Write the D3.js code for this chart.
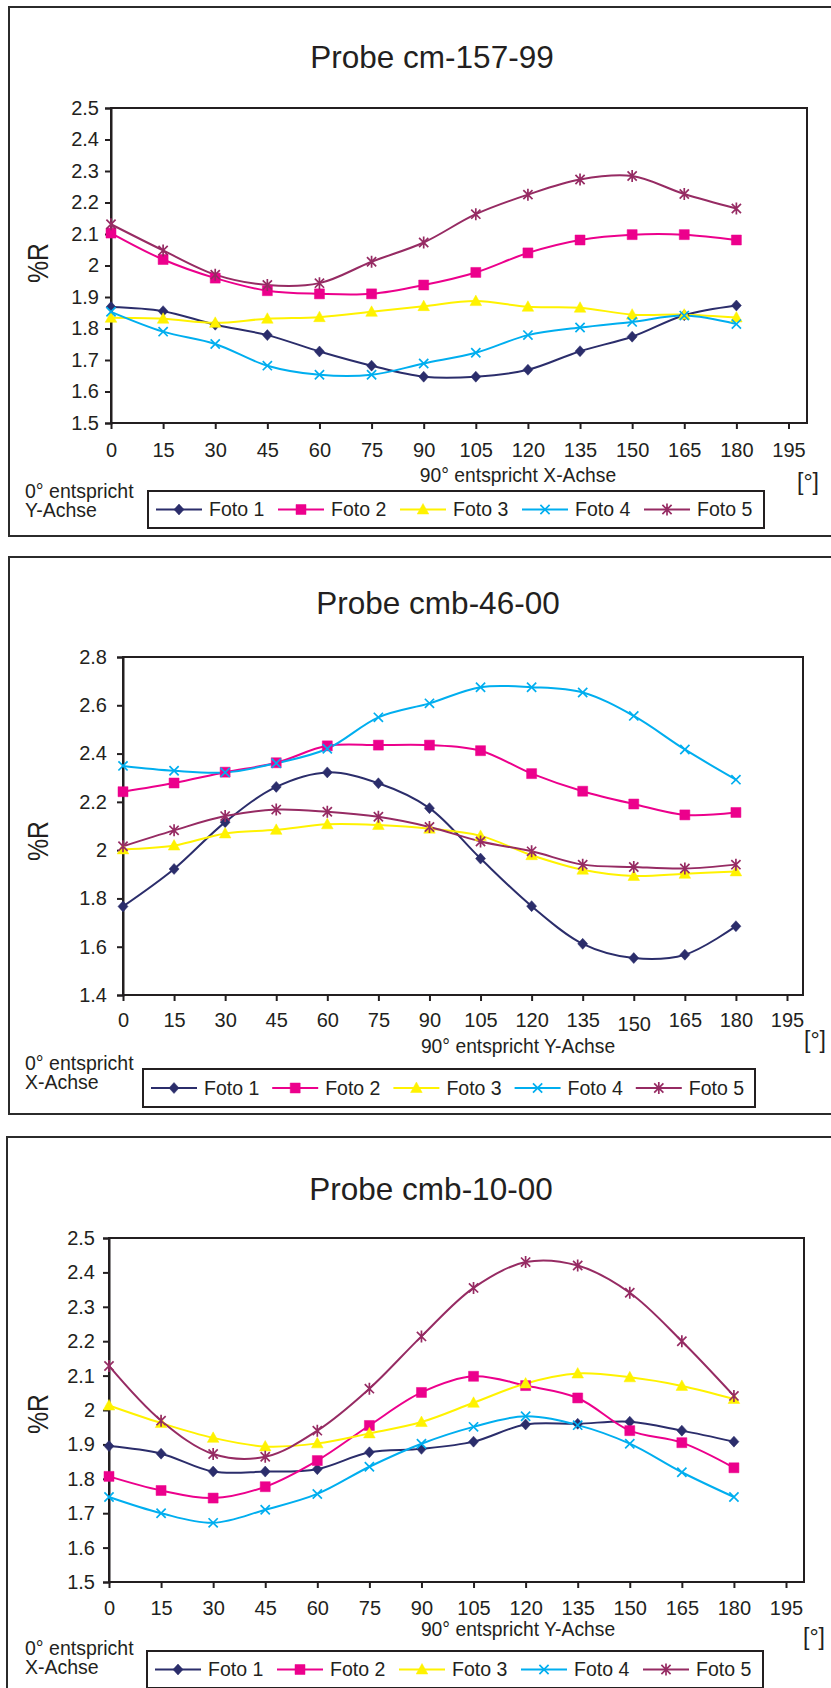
<!DOCTYPE html>
<html>
<head>
<meta charset="utf-8">
<script src="https://cdn.jsdelivr.net/npm/d3@7"></script>
<style>
  html, body { margin: 0; padding: 0; background: #ffffff; }
  svg { display: block; }
  text { font-family: "Liberation Sans", Arial, Helvetica, sans-serif; fill: #231f20; }
</style>
</head>
<body>
<script>
// ---------------- DATA ----------------
const angles = [0, 15, 30, 45, 60, 75, 90, 105, 120, 135, 150, 165, 180];
const xTickLabels = ["0","15","30","45","60","75","90","105","120","135","150","165","180","195"];
const yTickLabelsA = ["1.5","1.6","1.7","1.8","1.9","2","2.1","2.2","2.3","2.4","2.5"];
const yTickLabelsB = ["1.4","1.6","1.8","2","2.2","2.4","2.6","2.8"];
const seriesNames = ["Foto 1", "Foto 2", "Foto 3", "Foto 4", "Foto 5"];
const chartTitles = ["Probe cm-157-99", "Probe cmb-46-00", "Probe cmb-10-00"];
const xAxisNotes = ["90° entspricht X-Achse", "90° entspricht Y-Achse", "90° entspricht Y-Achse"];
const cornerNotes = [["0° entspricht", "Y-Achse"], ["0° entspricht", "X-Achse"], ["0° entspricht", "X-Achse"]];
const yAxisTitle = "%R";
const unitLabel = "[°]";

// Probe cm-157-99
const c1Foto1 = [1.868, 1.855, 1.812, 1.779, 1.727, 1.682, 1.647, 1.647, 1.669, 1.728, 1.774, 1.842, 1.873];
const c1Foto2 = [2.103, 2.019, 1.960, 1.920, 1.910, 1.910, 1.938, 1.978, 2.040, 2.081, 2.098, 2.098, 2.081];
const c1Foto3 = [1.834, 1.831, 1.818, 1.831, 1.836, 1.853, 1.871, 1.887, 1.869, 1.866, 1.844, 1.844, 1.835];
const c1Foto4 = [1.853, 1.790, 1.751, 1.682, 1.653, 1.653, 1.689, 1.723, 1.779, 1.803, 1.821, 1.841, 1.814];
const c1Foto5 = [2.131, 2.048, 1.971, 1.938, 1.944, 2.012, 2.073, 2.163, 2.225, 2.273, 2.284, 2.227, 2.181];

// Probe cmb-46-00
const c2Foto1 = [1.767, 1.922, 2.116, 2.262, 2.322, 2.277, 2.174, 1.965, 1.768, 1.612, 1.553, 1.567, 1.685];
const c2Foto2 = [2.242, 2.278, 2.323, 2.362, 2.432, 2.435, 2.435, 2.412, 2.317, 2.244, 2.191, 2.146, 2.156];
const c2Foto3 = [2.003, 2.019, 2.069, 2.084, 2.107, 2.104, 2.089, 2.059, 1.979, 1.919, 1.893, 1.902, 1.912];
const c2Foto4 = [2.349, 2.329, 2.322, 2.360, 2.420, 2.550, 2.608, 2.675, 2.675, 2.653, 2.556, 2.417, 2.292];
const c2Foto5 = [2.016, 2.082, 2.141, 2.168, 2.159, 2.138, 2.096, 2.036, 1.995, 1.940, 1.930, 1.924, 1.940];

// Probe cmb-10-00
const c3Foto1 = [1.895, 1.873, 1.821, 1.821, 1.828, 1.877, 1.887, 1.908, 1.958, 1.960, 1.966, 1.940, 1.908];
const c3Foto2 = [1.807, 1.766, 1.744, 1.777, 1.853, 1.955, 2.051, 2.098, 2.071, 2.035, 1.940, 1.905, 1.832];
const c3Foto3 = [2.013, 1.962, 1.919, 1.894, 1.903, 1.932, 1.965, 2.021, 2.077, 2.106, 2.095, 2.070, 2.032];
const c3Foto4 = [1.747, 1.700, 1.672, 1.710, 1.756, 1.835, 1.902, 1.951, 1.982, 1.956, 1.902, 1.819, 1.747];
const c3Foto5 = [2.128, 1.969, 1.872, 1.864, 1.940, 2.062, 2.214, 2.355, 2.430, 2.420, 2.341, 2.200, 2.041];

// ---------------- STYLE / LAYOUT ----------------
const W = 831, H = 1688;
const colors = ["#2b2d6b", "#ec008c", "#fff200", "#00aeef", "#962b63"];
const markerKinds = ["diamond", "square", "triangle", "x", "star"];

const layouts = [
  { frame: {x: 9, y: 7, bottom: 536},
    plot: {left: 111, top: 108, right: 807, bottom: 423, x195: 788.5},
    title: {x: 432, y: 68}, ylab: {x: 37, y: 263}, yGap: 12, xDy: 34, xShift: {},
    note: {x: 518, y: 482}, unit: {x: 808, y: 490}, corner: {x: 25, y1: 498, y2: 517},
    legend: {x: 148, y: 491, w: 616, h: 37, step: 122} },
  { frame: {x: 9, y: 557, bottom: 1114},
    plot: {left: 123, top: 657, right: 803, bottom: 995, x195: 787},
    title: {x: 438, y: 614}, ylab: {x: 37, y: 841}, yGap: 16, xDy: 32, xShift: {"150": 4},
    note: {x: 518, y: 1053}, unit: {x: 815, y: 1048}, corner: {x: 25, y1: 1069.5, y2: 1088.5},
    legend: {x: 143, y: 1069, w: 612, h: 38, step: 121.2} },
  { frame: {x: 7, y: 1137, bottom: 1720},
    plot: {left: 109, top: 1238, right: 804, bottom: 1582, x195: 786},
    title: {x: 431, y: 1200}, ylab: {x: 37, y: 1414}, yGap: 14, xDy: 33, xShift: {},
    note: {x: 518, y: 1636}, unit: {x: 814, y: 1645}, corner: {x: 25, y1: 1655, y2: 1674},
    legend: {x: 147, y: 1651, w: 616, h: 37, step: 122} }
];

const charts = [
  { series: [c1Foto1, c1Foto2, c1Foto3, c1Foto4, c1Foto5], yTicks: yTickLabelsA },
  { series: [c2Foto1, c2Foto2, c2Foto3, c2Foto4, c2Foto5], yTicks: yTickLabelsB },
  { series: [c3Foto1, c3Foto2, c3Foto3, c3Foto4, c3Foto5], yTicks: yTickLabelsA }
];

function markerPath(kind) {
  switch (kind) {
    case "diamond": return "M0,-5.5L5,0L0,5.5L-5,0Z";
    case "square": return "M-5,-5H5V5H-5Z";
    case "triangle": return "M0,-6L5.8,4.5H-5.8Z";
    case "x": return "M-4.6,-4.6L4.6,4.6M-4.6,4.6L4.6,-4.6";
    case "star": return "M-4.6,-4.6L4.6,4.6M-4.6,4.6L4.6,-4.6M0,-6L0,6";
  }
}
function drawMarker(g, kind, color, x, y) {
  const filled = kind === "diamond" || kind === "square" || kind === "triangle";
  g.append("path")
    .attr("d", markerPath(kind))
    .attr("transform", `translate(${x},${y})`)
    .attr("fill", filled ? color : "none")
    .attr("stroke", color)
    .attr("stroke-width", filled ? 0.5 : 1.7);
}

const svg = d3.select("body").append("svg").attr("width", W).attr("height", H);
svg.append("rect").attr("width", W).attr("height", H).attr("fill", "#fff");

charts.forEach((chart, ci) => {
  const L = layouts[ci];
  const g = svg.append("g");
  const yVals = chart.yTicks.map(Number);
  const x = d3.scaleLinear().domain([0, 195]).range([L.plot.left, L.plot.x195]);
  const y = d3.scaleLinear().domain([d3.min(yVals), d3.max(yVals)]).range([L.plot.bottom, L.plot.top]);

  // outer frame (right edge beyond the page)
  g.append("rect")
    .attr("x", L.frame.x).attr("y", L.frame.y)
    .attr("width", W + 40 - L.frame.x).attr("height", L.frame.bottom - L.frame.y)
    .attr("fill", "none").attr("stroke", "#2b2b2b").attr("stroke-width", 2);

  // title
  g.append("text").attr("x", L.title.x).attr("y", L.title.y)
    .attr("text-anchor", "middle").attr("font-size", 31.5).text(chartTitles[ci]);

  // plot area border
  g.append("rect")
    .attr("x", L.plot.left).attr("y", L.plot.top)
    .attr("width", L.plot.right - L.plot.left).attr("height", L.plot.bottom - L.plot.top)
    .attr("fill", "none").attr("stroke", "#231f20").attr("stroke-width", 2);

  // y axis
  const yAxis = d3.axisLeft(y).tickValues(yVals).tickSize(6).tickPadding(L.yGap - 6)
    .tickFormat((d, i) => chart.yTicks[i]);
  const yg = g.append("g").attr("transform", `translate(${L.plot.left},0)`).call(yAxis);
  yg.select(".domain").attr("stroke", "#231f20").attr("stroke-width", 2);
  yg.selectAll(".tick line").attr("stroke", "#231f20").attr("stroke-width", 2);
  yg.selectAll(".tick text").attr("font-size", 20).attr("fill", "#231f20")
    .attr("font-family", "Liberation Sans, Arial, sans-serif");

  // x axis
  const xVals = xTickLabels.map(Number);
  const xAxis = d3.axisBottom(x).tickValues(xVals).tickSize(6).tickSizeOuter(0)
    .tickFormat((d, i) => xTickLabels[i]);
  const xg = g.append("g").attr("transform", `translate(0,${L.plot.bottom})`).call(xAxis);
  xg.select(".domain").remove();
  xg.selectAll(".tick line").attr("stroke", "#231f20").attr("stroke-width", 2);
  xg.selectAll(".tick text").attr("font-size", 20).attr("fill", "#231f20")
    .attr("font-family", "Liberation Sans, Arial, sans-serif")
    .attr("y", (d, i) => L.xDy + (L.xShift[xTickLabels[i]] || 0)).attr("dy", 0);

  // y axis title
  g.append("text")
    .attr("transform", `translate(${L.ylab.x + 11},${L.ylab.y}) rotate(-90)`)
    .attr("text-anchor", "middle").attr("font-size", 30)
    .attr("textLength", 40).attr("lengthAdjust", "spacingAndGlyphs")
    .text(yAxisTitle);

  // notes
  g.append("text").attr("x", L.note.x).attr("y", L.note.y)
    .attr("text-anchor", "middle").attr("font-size", 19.3).text(xAxisNotes[ci]);
  g.append("text").attr("x", L.unit.x).attr("y", L.unit.y)
    .attr("text-anchor", "middle").attr("font-size", 23).text(unitLabel);
  g.append("text").attr("x", L.corner.x).attr("y", L.corner.y1)
    .attr("font-size", 19.5).text(cornerNotes[ci][0]);
  g.append("text").attr("x", L.corner.x).attr("y", L.corner.y2)
    .attr("font-size", 19.5).text(cornerNotes[ci][1]);

  // series
  const line = d3.line().curve(d3.curveCatmullRom.alpha(0.5))
    .x((d, i) => x(angles[i])).y(d => y(d));
  chart.series.forEach((vals, si) => {
    g.append("path").attr("d", line(vals))
      .attr("fill", "none").attr("stroke", colors[si]).attr("stroke-width", 2);
  });
  chart.series.forEach((vals, si) => {
    vals.forEach((v, i) => drawMarker(g, markerKinds[si], colors[si], x(angles[i]), y(v)));
  });

  // legend
  const lg = g.append("g");
  lg.append("rect").attr("x", L.legend.x).attr("y", L.legend.y)
    .attr("width", L.legend.w).attr("height", L.legend.h)
    .attr("fill", "#fff").attr("stroke", "#231f20").attr("stroke-width", 2);
  const cy = L.legend.y + L.legend.h / 2;
  seriesNames.forEach((name, si) => {
    const x0 = L.legend.x + 8 + si * L.legend.step;
    lg.append("line").attr("x1", x0).attr("x2", x0 + 46).attr("y1", cy).attr("y2", cy)
      .attr("stroke", colors[si]).attr("stroke-width", 2);
    drawMarker(lg, markerKinds[si], colors[si], x0 + 23, cy);
    lg.append("text").attr("x", x0 + 53).attr("y", cy).attr("dy", "0.35em")
      .attr("font-size", 19.5).text(name);
  });
});
</script>
</body>
</html>
